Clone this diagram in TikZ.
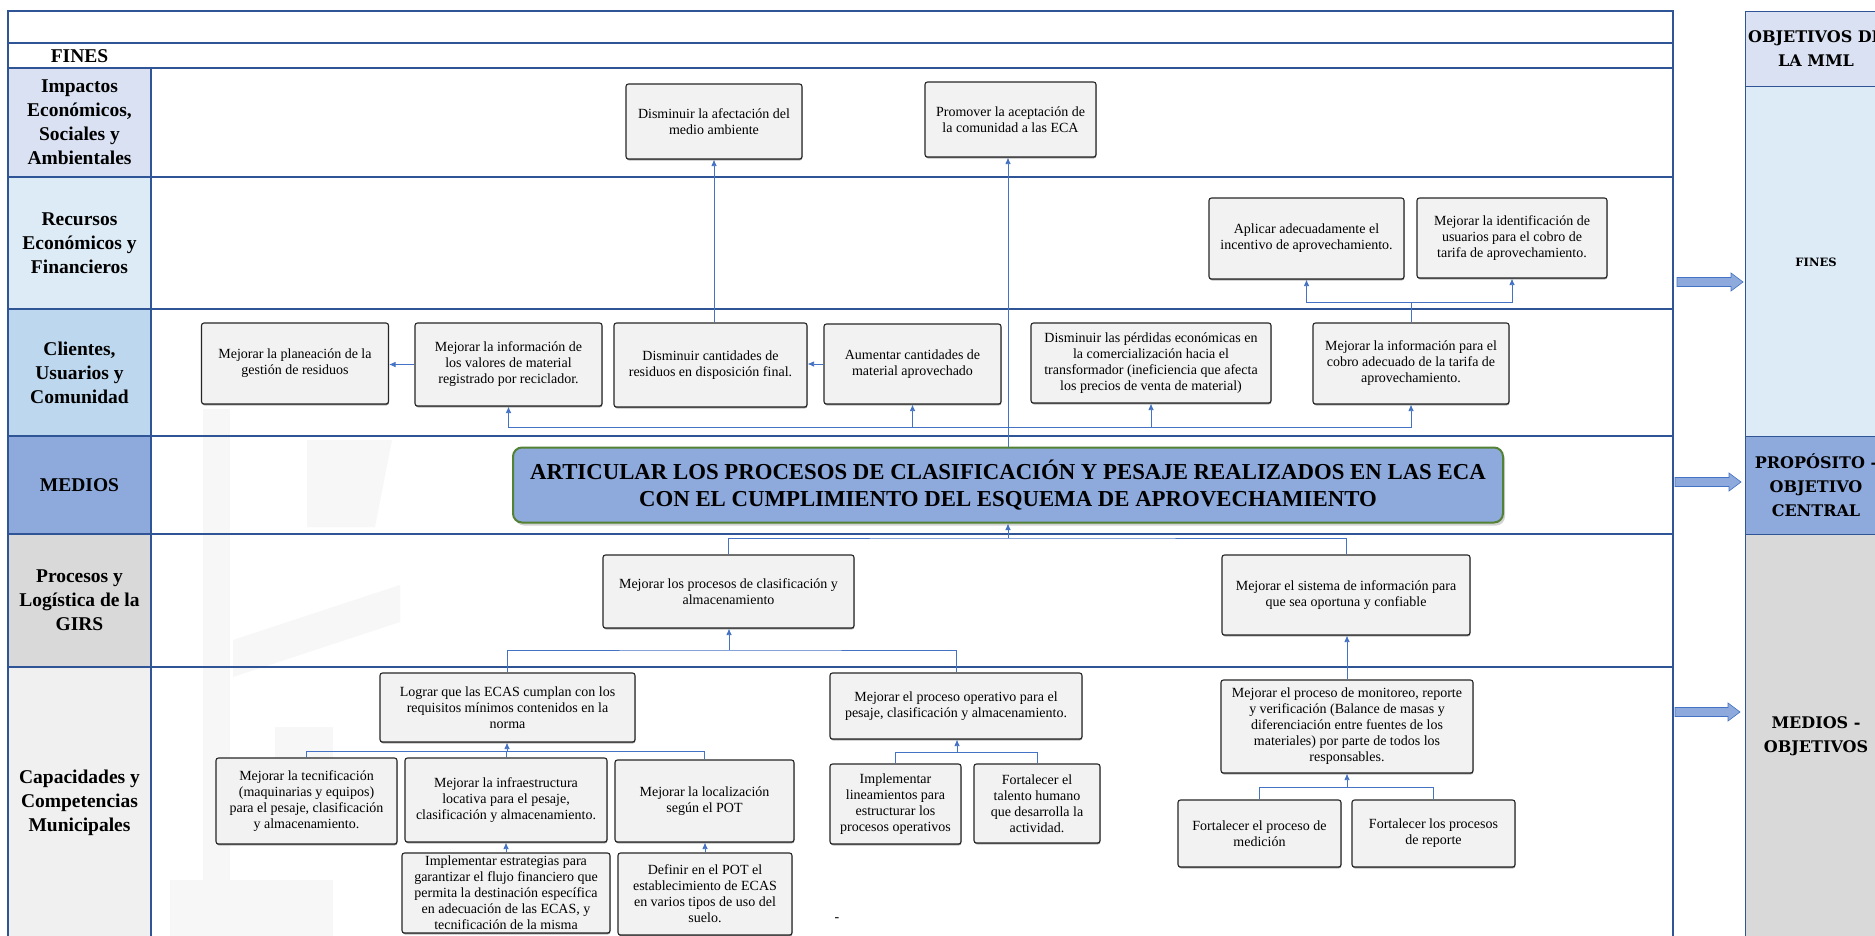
\documentclass[tikz,border=0pt]{standalone}
\usepackage{fontspec}
\setmainfont{Liberation Serif}
\newfontfamily\mmlfont{DejaVu Serif}
\usetikzlibrary{arrows.meta,shadows}

\definecolor{linea}{RGB}{47,85,151}
\definecolor{conector}{RGB}{68,114,196}
\definecolor{cajagris}{RGB}{242,242,242}
\definecolor{impactos}{RGB}{217,225,242}
\definecolor{recursos}{RGB}{221,235,247}
\definecolor{clientes}{RGB}{189,215,238}
\definecolor{medios}{RGB}{142,169,219}
\definecolor{procesos}{RGB}{217,217,217}
\definecolor{capacidades}{RGB}{240,240,240}
\definecolor{verde}{RGB}{84,130,53}

\newcommand\cajafont{\fontsize{14}{16}\selectfont}
\newcommand\rotfont{\fontsize{19.5}{24}\selectfont\bfseries}
\newcommand\centralfont{\fontsize{22.8}{27}\selectfont\bfseries}
\newcommand\mmlgrande{\mmlfont\fontsize{16}{24}\selectfont\bfseries}
\newcommand\mmlchica{\mmlfont\fontsize{11.5}{14}\selectfont\bfseries}

\begin{document}
\begin{tikzpicture}[x=1pt,y=-1pt,
  caja/.style 2 args={draw=black!85,line width=1.1pt,fill=cajagris,rounded corners=2.5pt,
    minimum width=#1,minimum height=#2,inner sep=1pt,align=center,font=\cajafont,
    drop shadow={shadow xshift=0.4pt,shadow yshift=-1.3pt,fill=black!60,opacity=0.8}},
  rotulo/.style={align=center,font=\rotfont},
  flecha/.style={draw=conector,line width=0.8pt,-{Latex[length=6.5pt,width=5.5pt]}},
  bus/.style={draw=conector,line width=0.8pt},
  rejilla/.style={draw=linea,line width=1.3pt},
  bloque/.style={fill=medios,draw=conector,line width=0.6pt},
  marca/.style={fill=black!3}]
\useasboundingbox (0,0) rectangle (1875,935);
\clip (0,0) rectangle (1875,935);
\fill[white] (0,0) rectangle (1875,935);

% watermark
\fill[marca] (203,409) rectangle (230,940);
\fill[marca] (307,440) -- (392,440) -- (375,527) -- (307,527) -- cycle;
\fill[marca] (233,640) -- (400,585) -- (400,622) -- (233,677) -- cycle;
\fill[marca] (275,727) rectangle (333,775);
\fill[marca] (170,880) rectangle (333,940);

% label cells
\fill[impactos] (8,68) rectangle (151,177);
\fill[recursos] (8,177) rectangle (151,309);
\fill[clientes] (8,309) rectangle (151,436);
\fill[medios] (8,436) rectangle (151,534);
\fill[procesos] (8,534) rectangle (151,667);
\fill[capacidades] (8,667) rectangle (151,940);

% grid
\draw[rejilla] (8,11) rectangle (1673,940);
\foreach \y in {43,68,177,309,436,534,667}
  \draw[rejilla] (8,\y) -- (1673,\y);
\draw[rejilla] (151,68) -- (151,940);

% row labels
\node[rotulo] (lFines) at (79.5,56) {FINES};
\node[rotulo] (lImp) at (79.5,122.5) {Impactos\\Económicos,\\Sociales y\\Ambientales};
\node[rotulo] (lRec) at (79.5,243) {Recursos\\Económicos y\\Financieros};
\node[rotulo] (lCli) at (79.5,372.5) {Clientes,\\Usuarios y\\Comunidad};
\node[rotulo] (lMed) at (79.5,485) {MEDIOS};
\node[rotulo] (lPro) at (79.5,600.5) {Procesos y\\Logística de la\\GIRS};
\node[rotulo] (lCap) at (79.5,803) {Capacidades y\\Competencias\\Municipales};

% mml column
\fill[impactos] (1745,11) rectangle (1890,86.5);
\fill[recursos] (1745,86.5) rectangle (1890,436.5);
\fill[medios] (1745,436.5) rectangle (1890,534);
\fill[procesos] (1745,534) rectangle (1890,940);
\draw[linea,line width=1pt] (1745,940) -- (1745,11) -- (1890,11);
\foreach \y in {86.5,436.5,534}
  \draw[linea,line width=0.6pt] (1745,\y) -- (1890,\y);
\node[align=center,font=\mmlgrande] (mmlTit) at (1816,49) {OBJETIVOS DE\\LA MML};
\node[font=\mmlchica] (mmlFin) at (1816,262) {FINES};
\node[align=center,font=\mmlgrande] (mmlPro) at (1816,485.5) {PROPÓSITO -\\OBJETIVO\\CENTRAL};
\node[align=center,font=\mmlgrande] (mmlMed) at (1816,736) {MEDIOS -\\OBJETIVOS};

% block arrows
\foreach \yc/\xa/\xb in {282/1677/1743,482/1675/1741,712/1675/1740}
  \draw[bloque] (\xa,\yc-4.5) -- (\xb-12,\yc-4.5) -- (\xb-12,\yc-9) -- (\xb,\yc)
    -- (\xb-12,\yc+9) -- (\xb-12,\yc+4.5) -- (\xa,\yc+4.5) -- cycle;

% fines
\node[caja={176}{75}] (fImp1) at (714,121.5) {Disminuir la afectación del\\medio ambiente};
\node[caja={171}{75}] (fImp2) at (1010.5,119.5) {Promover la aceptación de\\la comunidad a las ECA};
\node[caja={195}{81}] (fRec1) at (1306.5,238.5) {Aplicar adecuadamente el\\incentivo de aprovechamiento.};
\node[caja={190}{80}] (fRec2) at (1512,238) {Mejorar la identificación de\\usuarios para el cobro de\\tarifa de aprovechamiento.};
\node[caja={187}{81}] (fCli1) at (295,363.5) {Mejorar la planeación de la\\gestión de residuos};
\node[caja={187}{83}] (fCli2) at (508.5,364.5) {Mejorar la información de\\los valores de material\\registrado por reciclador.};
\node[caja={193}{84}] (fCli3) at (710.5,365) {Disminuir cantidades de\\residuos en disposición final.};
\node[caja={177}{80}] (fCli4) at (912.5,364) {Aumentar cantidades de\\material aprovechado};
\node[caja={240}{80}] (fCli5) at (1151,363) {Disminuir las pérdidas económicas en\\la comercialización hacia el\\transformador (ineficiencia que afecta\\los precios de venta de material)};
\node[caja={196}{81}] (fCli6) at (1411,363.5) {Mejorar la información para el\\cobro adecuado de la tarifa de\\aprovechamiento.};

% central purpose
\node[draw=verde,line width=2pt,fill=medios,rounded corners=9pt,minimum width=990,minimum height=75,
  align=center,font=\centralfont,drop shadow={shadow xshift=2pt,shadow yshift=-3pt,opacity=0.35}]
  (central) at (1008,485) {ARTICULAR LOS PROCESOS DE CLASIFICACIÓN Y PESAJE REALIZADOS EN LAS ECA\\CON EL CUMPLIMIENTO DEL ESQUEMA DE APROVECHAMIENTO};

% medios
\node[caja={251}{73}] (mPro1) at (728.5,591.5) {Mejorar los procesos de clasificación y\\almacenamiento};
\node[caja={248}{80}] (mPro2) at (1346,595) {Mejorar el sistema de información para\\que sea oportuna y confiable};
\node[caja={255}{69}] (mCap1) at (507.5,707.5) {Lograr que las ECAS cumplan con los\\requisitos mínimos contenidos en la\\norma};
\node[caja={181}{86}] (mCap2) at (306.5,801) {Mejorar la tecnificación\\(maquinarias y equipos)\\para el pesaje, clasificación\\y almacenamiento.};
\node[caja={202}{84}] (mCap3) at (506,800) {Mejorar la infraestructura\\locativa para el pesaje,\\clasificación y almacenamiento.};
\node[caja={179}{82}] (mCap4) at (704.5,801) {Mejorar la localización\\según el POT};
\node[caja={208}{80}] (mCap5) at (506,893) {Implementar estrategias para\\garantizar el flujo financiero que\\permita la destinación específica\\en adecuación de las ECAS, y\\tecnificación de la misma};
\node[caja={174}{82}] (mCap6) at (705,894) {Definir en el POT el\\establecimiento de ECAS\\en varios tipos de uso del\\suelo.};
\node[caja={252}{66}] (mCap7) at (956,706) {Mejorar el proceso operativo para el\\pesaje, clasificación y almacenamiento.};
\node[caja={131}{80}] (mCap8) at (895.5,804) {Implementar\\lineamientos para\\estructurar los\\procesos operativos};
\node[caja={126}{79}] (mCap9) at (1037,803.5) {Fortalecer el\\talento humano\\que desarrolla la\\actividad.};
\node[caja={252}{93}] (mCap10) at (1347,726.5) {Mejorar el proceso de monitoreo, reporte\\y verificación (Balance de masas y\\diferenciación entre fuentes de los\\materiales) por parte de todos los\\responsables.};
\node[caja={163}{67}] (mCap11) at (1259.5,833.5) {Fortalecer el proceso de\\medición};
\node[caja={163}{67}] (mCap12) at (1433.5,833.5) {Fortalecer los procesos\\de reporte};
\node[font=\cajafont] (guion) at (837,920) {-};

% connectors up to the fines
\draw[flecha] (fImp1.south |- fCli3.north) -- (fImp1.south);
\draw[flecha] (central.north) -- (central.north |- fImp2.south);
\coordinate (bus1) at (1008,427);
\foreach \n in {fCli2,fCli4,fCli5,fCli6}
  \draw[flecha] (bus1) -| (\n.south);
\coordinate (bus2) at (1411,302);
\draw[bus] (fCli6.north) -- (bus2);
\draw[flecha] (bus2) -| (fRec1.south);
\draw[flecha] (bus2) -| (fRec2.south);
\draw[flecha] (fCli4.west) -- (fCli4.west -| fCli3.east);
\draw[flecha] (fCli2.west) -- (fCli2.west -| fCli1.east);

% connectors from the medios
\coordinate (bus3) at (1008,538);
\draw[bus] (mPro1.north) |- (bus3) -| (mPro2.north);
\draw[flecha] (bus3) -- (central.south);
\coordinate (bus4) at (729,650);
\draw[bus] (mCap1.north) |- (bus4) -| (mCap7.north);
\draw[flecha] (bus4) -- (bus4 |- mPro1.south);
\draw[flecha] (mCap10.north) -- (mCap10.north |- mPro2.south);
\coordinate (bus5) at (507,751);
\draw[bus] (mCap2.north) |- (bus5) -| (mCap4.north);
\draw[bus] (mCap3.north) -- (mCap3.north |- bus5);
\draw[flecha] (bus5) -- (bus5 |- mCap1.south);
\draw[flecha] (mCap5.north) -- (mCap5.north |- mCap3.south);
\draw[flecha] (mCap6.north) -- (mCap6.north |- mCap4.south);
\coordinate (bus6) at (957,752);
\draw[bus] (mCap8.north) |- (bus6) -| (mCap9.north);
\draw[flecha] (bus6) -- (bus6 |- mCap7.south);
\coordinate (bus7) at (1347,787);
\draw[bus] (mCap11.north) |- (bus7) -| (mCap12.north);
\draw[flecha] (bus7) -- (mCap10.south);
\end{tikzpicture}
\end{document}
